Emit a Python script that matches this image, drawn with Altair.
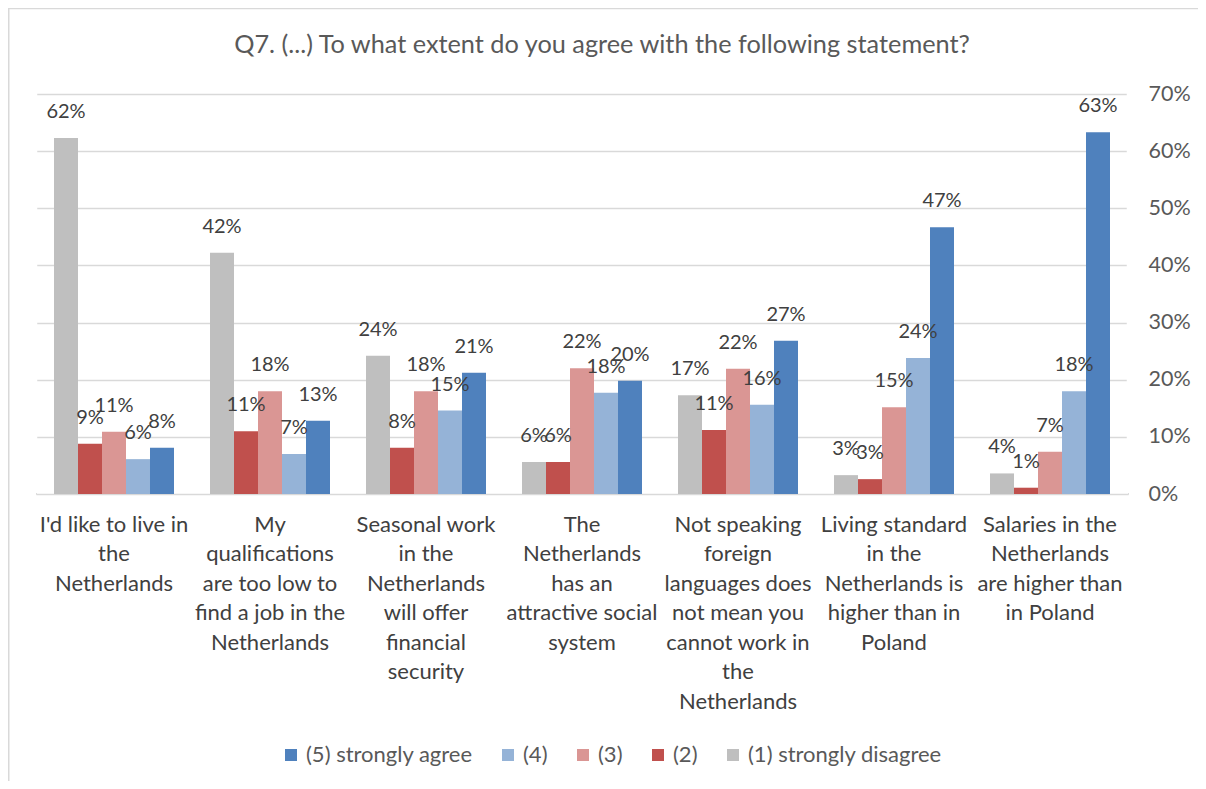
import altair as alt
import pandas as pd

categories = [
    "I'd like to live in|the|Netherlands",
    "My|qualifications|are too low to|find a job in the|Netherlands",
    "Seasonal work|in the|Netherlands|will offer|financial|security",
    "The|Netherlands|has an|attractive social|system",
    "Not speaking|foreign|languages does|not mean you|cannot work in|the|Netherlands",
    "Living standard|in the|Netherlands is|higher than in|Poland",
    "Salaries in the|Netherlands|are higher than|in Poland",
]
series = ["(1) strongly disagree", "(2)", "(3)", "(4)", "(5) strongly agree"]
s1 = [0.623, 0.422, 0.242, 0.056, 0.173, 0.033, 0.036]
s2 = [0.088, 0.110, 0.081, 0.056, 0.112, 0.026, 0.011]
s3 = [0.109, 0.180, 0.180, 0.220, 0.219, 0.152, 0.074]
s4 = [0.061, 0.070, 0.146, 0.177, 0.156, 0.238, 0.180]
s5 = [0.081, 0.128, 0.212, 0.198, 0.268, 0.467, 0.633]
colors = ["#BFBFBF", "#C0504D", "#DA9694", "#95B3D7", "#4F81BD"]
y_ticks = [0, 0.1, 0.2, 0.3, 0.4, 0.5, 0.6, 0.7]
title = "Q7. (...) To what extent do you agree with the following statement?"

rows = []
for name, vals in zip(series, [s1, s2, s3, s4, s5]):
    for c, v in zip(categories, vals):
        rows.append({"category": c, "series": name, "value": v})
df = pd.DataFrame(rows)

FONT = "Lato"
TXT = "#404040"

base = alt.Chart(df).encode(
    x=alt.X("category:N", sort=categories,
            scale=alt.Scale(paddingInner=0.2308, paddingOuter=0.1154),
            axis=alt.Axis(title=None, labelAngle=0, ticks=False, domain=False, grid=False,
                          labelExpr="split(datum.value, '|')",
                          labelFontSize=22, labelColor=TXT, labelFont=FONT,
                          labelPadding=20, labelLineHeight=29.5, labelLimit=0,
                          labelBaseline="top")),
    xOffset=alt.XOffset("series:N", sort=series, scale=alt.Scale(paddingInner=0, paddingOuter=0)),
    y=alt.Y("value:Q", scale=alt.Scale(domain=[0, 0.7]),
            axis=alt.Axis(title=None, orient="right", values=y_ticks, format=".0%",
                          ticks=False, domain=False, gridColor="#D9D9D9", gridWidth=1.3,
                          labelFontSize=21.5, labelColor="#595959", labelFont=FONT,
                          labelPadding=20)),
)

bars = base.mark_bar().encode(
    color=alt.Color("series:N",
                    scale=alt.Scale(domain=series[::-1], range=colors[::-1]),
                    legend=alt.Legend(title=None, orient="none", direction="horizontal",
                                      legendX=244, legendY=650,
                                      symbolType="square", symbolSize=144,
                                      symbolStrokeWidth=0, labelLimit=0,
                                      labelFontSize=22, labelColor="#595959", labelFont=FONT,
                                      columnPadding=24, symbolOffset=0, labelOffset=4))
)

labels = base.mark_text(baseline="bottom", dy=-16, fontSize=20, font=FONT, color=TXT).encode(
    text=alt.Text("value:Q", format=".0%")
)

one = pd.DataFrame({"a": [0]})
top_line = alt.Chart(one).mark_rule(color="#D9D9D9", strokeWidth=1.5).encode(
    x=alt.value(-28), x2=alt.value(1170), y=alt.value(-85.5))
left_line = alt.Chart(one).mark_rule(color="#D9D9D9", strokeWidth=1.5).encode(
    x=alt.value(-27.25), y=alt.value(-86), y2=alt.value(700))
cover_left = alt.Chart(one).mark_rule(color="white", strokeWidth=2.5).encode(
    x=alt.value(0), y=alt.value(-2), y2=alt.value(399))
cover_right = alt.Chart(one).mark_rule(color="white", strokeWidth=2.5).encode(
    x=alt.value(1092), y=alt.value(-2), y2=alt.value(399))
title_text = alt.Chart(one).mark_text(
    text=title, fontSize=25.3, font=FONT, color="#595959", align="center", baseline="middle"
).encode(x=alt.value(566), y=alt.value(-49))

chart = alt.layer(top_line, left_line, title_text, bars, labels, cover_left, cover_right).properties(
    width=1092, height=400,
    autosize=alt.AutoSizeParams(type="none"),
    padding={"left": 28, "top": 86, "right": 70, "bottom": 287},
).configure_view(stroke="transparent", strokeWidth=0).configure(background="white")

chart.save("out.html", embed_options={"renderer": "svg", "actions": False})
